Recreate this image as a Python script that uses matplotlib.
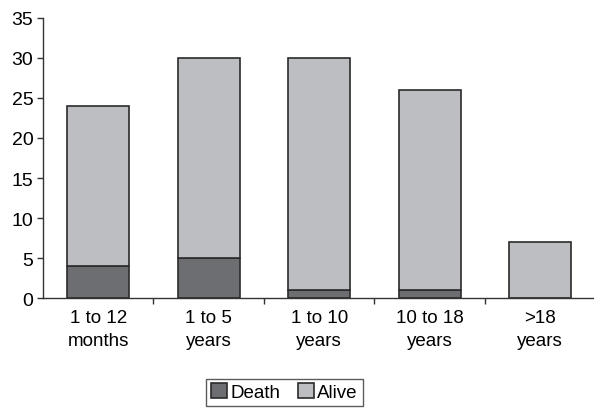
import numpy as np
import matplotlib.pyplot as plt

plt.rcParams["font.family"] = ["Liberation Sans", "DejaVu Sans"]

# Data
categories = ["1 to 12\nmonths", "1 to 5\nyears", "1 to 10\nyears", "10 to 18\nyears", ">18\nyears"]
death = [4, 5, 1, 1, 0]
alive = [20, 25, 29, 25, 7]

death_color = "#6d6e71"
alive_color = "#bdbec1"
edge = "#2b2b2b"

fig = plt.figure(figsize=(5.94, 4.10), dpi=100)
ax = fig.add_axes([0.0724, 0.2707, 0.93, 0.683])

x = np.arange(len(categories))
ax.bar(x, death, width=0.56, color=death_color, edgecolor=edge, linewidth=1.2, label="Death")
ax.bar(x, alive, width=0.56, bottom=death, color=alive_color, edgecolor=edge, linewidth=1.2, label="Alive")

ax.set_xlim(-0.5, len(categories) - 0.5)
ax.set_ylim(0, 35)
ax.set_yticks(range(0, 36, 5))
ax.tick_params(axis="y", labelsize=14, length=4, width=1, color="#333333", pad=3)

# category names centred, tick marks between categories
ax.set_xticks(x)
ax.set_xticklabels(categories, fontsize=13.5, linespacing=1.45)
ax.tick_params(axis="x", length=0, pad=8)
ax.set_xticks(np.arange(0.5, len(categories) - 0.5, 1), minor=True)
ax.tick_params(axis="x", which="minor", length=4, width=1, color="#333333")

for side in ["top", "right"]:
    ax.spines[side].set_visible(False)
for side in ["left", "bottom"]:
    ax.spines[side].set_color("#333333")
    ax.spines[side].set_linewidth(1)

leg = fig.legend(loc="center", bbox_to_anchor=(0.479, 0.041), ncol=2, fontsize=13.5,
                 frameon=True, fancybox=False, edgecolor="#333333",
                 handlelength=0.85, handleheight=0.85, handletextpad=0.2,
                 columnspacing=0.9, borderpad=0.25, borderaxespad=0)
leg.get_frame().set_linewidth(1)

fig.savefig("out.png", dpi=100)
